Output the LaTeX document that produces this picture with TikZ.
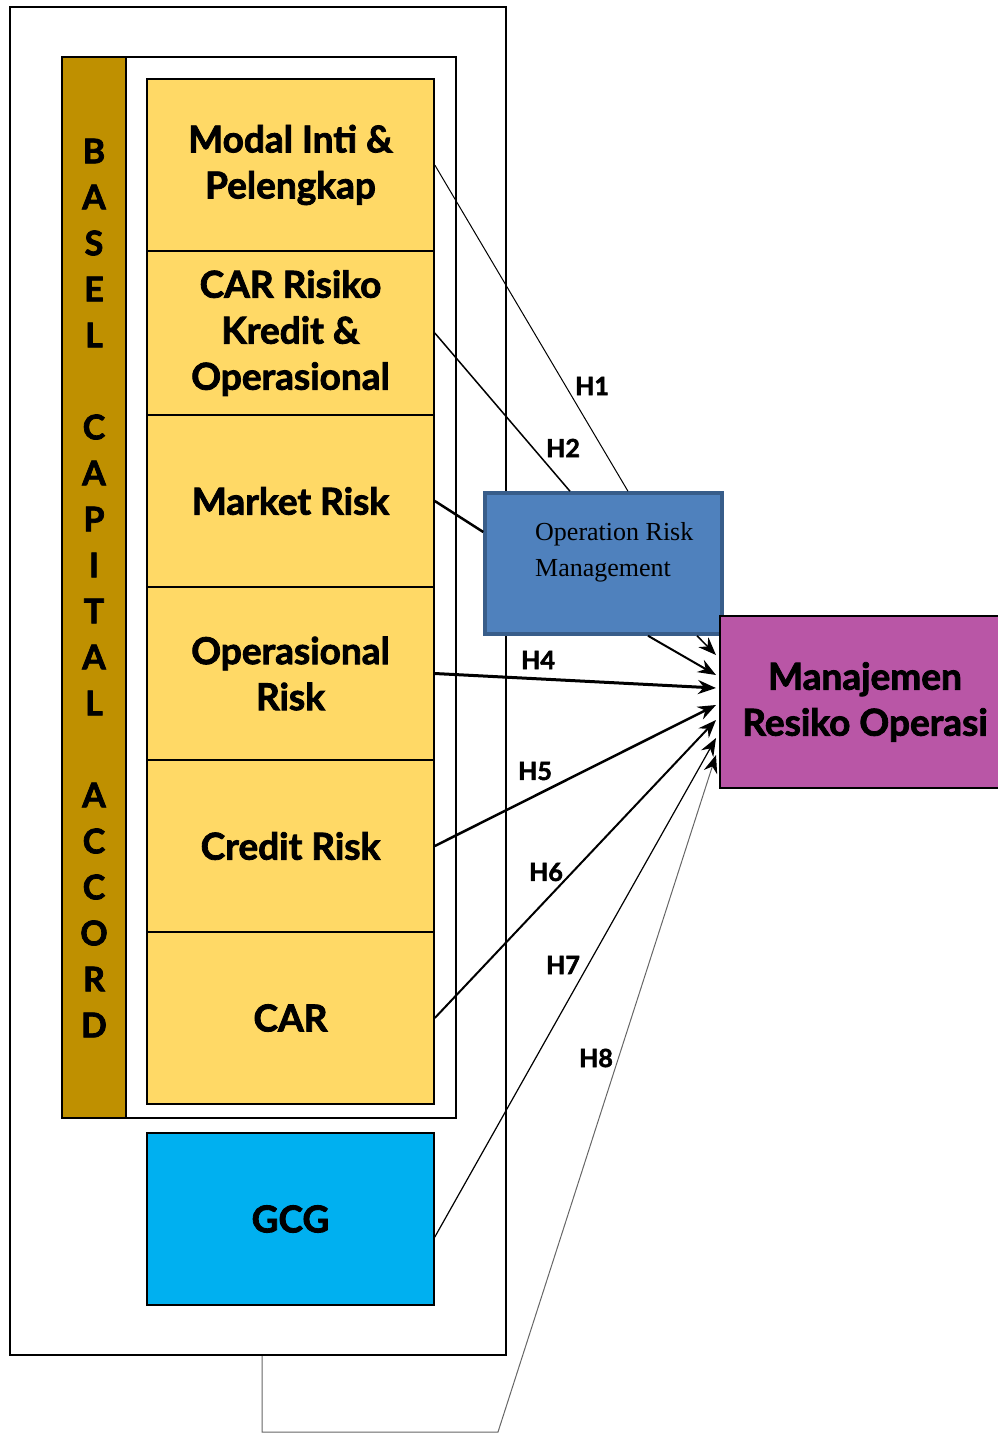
\documentclass[tikz,border=0pt]{standalone}
\usepackage{fontspec}
\setmainfont{Lato}[BoldFeatures={FakeBold=2.2}]
\newfontfamily\ormfont{Liberation Serif}
\usetikzlibrary{arrows.meta, positioning}

\definecolor{baselgold}{RGB}{191,144,0}
\definecolor{riskyellow}{RGB}{255,217,102}
\definecolor{gcgblue}{RGB}{0,176,240}
\definecolor{ormfill}{RGB}{79,129,189}
\definecolor{ormedge}{RGB}{56,93,138}
\definecolor{mrmpink}{RGB}{185,86,166}

\tikzset{
  bigtxt/.style={font=\fontsize{37}{46}\selectfont\bfseries},
  frame/.style={draw=black, line width=2pt, fill=white, inner sep=0pt},
  riskbox/.style={draw=black, line width=1.6pt, fill=riskyellow, minimum width=287pt,
    inner sep=0pt, align=center, bigtxt},
  hlbl/.style={font=\fontsize{25}{26}\selectfont\bfseries, inner sep=1pt},
  hyp/.style={draw=black, -{Stealth[length=18pt, width=14pt, inset=6pt, black]}},
}

\begin{document}
\begin{tikzpicture}[x=1pt, y=-1pt]
  \useasboundingbox (0,0) rectangle (997,1433);

  % frames
  \node[frame, minimum width=496pt, minimum height=1348pt] (outer) at (258,681) {};
  \node[frame, minimum width=394pt, minimum height=1061pt] (inner) at (259,587.5) {};
  \node[draw=black, line width=2pt, fill=baselgold, minimum width=64pt, minimum height=1061pt,
    inner sep=0pt] (gold) at (94,587.5) {};
  \node[align=center, bigtxt, font=\fontsize{34}{46}\selectfont\bfseries] (basel) at (94,588)
    {B\\A\\S\\E\\L\\{}\\C\\A\\P\\I\\T\\A\\L\\{}\\A\\C\\C\\O\\R\\D};

  % risk components
  \foreach \n/\yc/\h/\txt in {
      1/165/172/{Modal Inti \&\\Pelengkap},
      2/333/164/{CAR Risiko\\Kredit \&\\Operasional},
      3/501/172/{Market Risk},
      4/673.5/173/{Operasional\\Risk},
      5/846/172/{Credit Risk},
      6/1018/172/{CAR}}{
    \node[riskbox, minimum height=\h pt] (r\n) at (290.5,\yc) {\txt};
  }
  \node[riskbox, fill=gcgblue, minimum height=172pt] (gcg) at (290.5,1219) {GCG};

  % mediator and outcome
  \node[draw=ormedge, line width=3.5pt, fill=ormfill, minimum width=237pt, minimum height=141pt]
    (orm) at (603.5,563.5) {};
  \node[anchor=west, align=left, inner sep=0pt, font=\ormfont\fontsize{26}{36}\selectfont]
    (ormlbl) at (535,552) {Operation Risk\\Management};
  \node[draw=black, line width=2pt, fill=mrmpink, minimum width=290pt, minimum height=172pt,
    align=center, bigtxt] (mrm) at (865,702) {Manajemen\\Resiko Operasi};

  % paths
  \draw[line width=1pt] (r1.east) -- ([xshift=24.5pt]orm.north);
  \draw[line width=1.5pt] (r2.east) -- ([xshift=-33.5pt]orm.north);
  \draw[line width=2.5pt] (r3.east) -- ([yshift=31.5pt]orm.west);
  \draw[hyp, line width=2pt] ([xshift=44.5pt]orm.south) -- ([xshift=-3pt, yshift=27pt]mrm.west);
  \draw[hyp, line width=1.5pt] ([xshift=93.5pt]orm.south) -- ([xshift=-3pt, yshift=47pt]mrm.west);
  \draw[hyp, line width=3pt] (r4.east) -- ([xshift=-3pt, yshift=14pt]mrm.west);
  \draw[hyp, line width=2.5pt] (r5.east) -- ([xshift=-3pt, yshift=-3pt]mrm.west);
  \draw[hyp, line width=2pt] (r6.east) -- ([xshift=-3pt, yshift=-18pt]mrm.west);
  \draw[hyp, line width=1.2pt] ([yshift=-18pt]gcg.east) -- ([xshift=-3pt, yshift=-36pt]mrm.west);
  \coordinate (h8a) at (262,1432);
  \coordinate (h8b) at (498,1432);
  \draw[hyp, draw=black!60, line width=1pt] ([xshift=4pt]outer.south) -- (h8a) -- (h8b)
    -- ([xshift=-3pt, yshift=-53pt]mrm.west);

  % hypothesis labels
  \foreach \k/\x/\y in {1/592/386, 2/563/448, 4/538/660, 5/535/771, 6/546/872, 7/563/965, 8/596/1058}{
    \node[hlbl] (h\k) at (\x,\y) {H\k};
  }
\end{tikzpicture}
\end{document}
